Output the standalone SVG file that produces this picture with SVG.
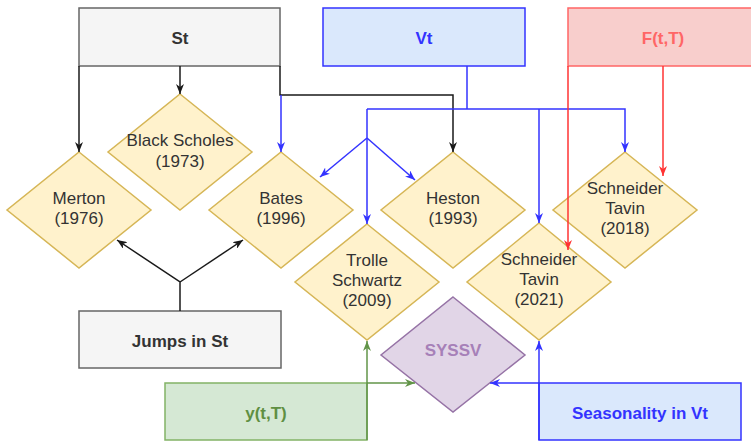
<svg xmlns="http://www.w3.org/2000/svg" width="751" height="442" viewBox="0 0 751 442">
<style>
text{font-family:"Liberation Sans",Arial,sans-serif;font-size:17px;text-anchor:middle}
.b{font-weight:bold}
.dia{fill:#fff2cc;stroke:#d6b656;stroke-width:1.5}
.dt{fill:#333333}
.c{fill:none;stroke-width:1.5}
.k{stroke:#1a1a1a}
.bl{stroke:#3333ff}
.r{stroke:#ff3333}
.g{stroke:#629448}
</style>
<defs>
<marker id="mk" viewBox="0 0 10 8" refX="10" refY="4" markerWidth="10" markerHeight="8" markerUnits="userSpaceOnUse" orient="auto"><path d="M0,0 L10,4 L0,8 L3,4 Z" fill="#1a1a1a"/></marker>
<marker id="mb" viewBox="0 0 10 8" refX="10" refY="4" markerWidth="10" markerHeight="8" markerUnits="userSpaceOnUse" orient="auto"><path d="M0,0 L10,4 L0,8 L3,4 Z" fill="#3333ff"/></marker>
<marker id="mr" viewBox="0 0 10 8" refX="10" refY="4" markerWidth="10" markerHeight="8" markerUnits="userSpaceOnUse" orient="auto"><path d="M0,0 L10,4 L0,8 L3,4 Z" fill="#ff3333"/></marker>
<marker id="mg" viewBox="0 0 10 8" refX="10" refY="4" markerWidth="10" markerHeight="8" markerUnits="userSpaceOnUse" orient="auto"><path d="M0,0 L10,4 L0,8 L3,4 Z" fill="#629448"/></marker>
</defs>
<rect width="751" height="442" fill="#ffffff"/>
<g id="St"><rect x="79" y="8" width="201" height="58" fill="#f5f5f5" stroke="#666666" stroke-width="1.5"/><text x="180" y="44" class="b" fill="#333333">St</text></g>
<g id="Vt"><rect x="323" y="8" width="202" height="58" fill="#dae8fc" stroke="#3333ff" stroke-width="1.5"/><text x="424" y="44" class="b" fill="#3333ff">Vt</text></g>
<g id="Ftt"><rect x="568" y="8" width="190" height="58" fill="#f8cecc" stroke="#ff6666" stroke-width="1.5"/><text x="663" y="44" class="b" fill="#ff6666">F(t,T)</text></g>
<g id="merton"><path class="dia" d="M79,152 L151,210 L79,268 L7,210 Z"/><text class="dt" x="79" y="204">Merton</text><text class="dt" x="79" y="224">(1976)</text></g>
<g id="blackscholes"><path class="dia" d="M180,94 L252,152 L180,210 L108,152 Z"/><text class="dt" x="180" y="146">Black Scholes</text><text class="dt" x="180" y="167">(1973)</text></g>
<g id="bates"><path class="dia" d="M281,152 L353,210 L281,268 L209,210 Z"/><text class="dt" x="281" y="204">Bates</text><text class="dt" x="281" y="224">(1996)</text></g>
<g id="heston"><path class="dia" d="M453,152 L525,210 L453,268 L381,210 Z"/><text class="dt" x="453" y="204">Heston</text><text class="dt" x="453" y="224">(1993)</text></g>
<g id="st2018"><path class="dia" d="M625,152 L697,210 L625,268 L553,210 Z"/><text class="dt" x="625" y="194">Schneider</text><text class="dt" x="625" y="214">Tavin</text><text class="dt" x="625" y="234">(2018)</text></g>
<g id="trolle"><path class="dia" d="M367,224 L439,282 L367,340 L295,282 Z"/><text class="dt" x="367" y="266">Trolle</text><text class="dt" x="367" y="286">Schwartz</text><text class="dt" x="367" y="306">(2009)</text></g>
<g id="st2021"><path class="dia" d="M539,223 L611,282 L539,340 L467,282 Z"/><text class="dt" x="539" y="265">Schneider</text><text class="dt" x="539" y="285">Tavin</text><text class="dt" x="539" y="305">(2021)</text></g>
<g id="syssv"><path d="M453,297 L525,355 L453,412 L381,355 Z" fill="#e1d5e7" stroke="#9673a6" stroke-width="1.5"/><text x="453" y="356" class="b" fill="#a680b8">SYSSV</text></g>
<g id="jumps"><rect x="79" y="311" width="202" height="57" fill="#f5f5f5" stroke="#666666" stroke-width="1.5"/><text x="180" y="347" class="b" fill="#333333">Jumps in St</text></g>
<g id="ytt"><rect x="165" y="383" width="202" height="57" fill="#d5e8d4" stroke="#82b366" stroke-width="1.5"/><text x="266" y="419" class="b" fill="#5f8f42">y(t,T)</text></g>
<g id="season"><rect x="539" y="383" width="202" height="57" fill="#dae8fc" stroke="#3333ff" stroke-width="1.5"/><text x="640" y="419" class="b" fill="#3333ff">Seasonality in Vt</text></g>
<g id="connectors">
<path class="c k" d="M79,66 L79,152" marker-end="url(#mk)"/>
<path class="c k" d="M180,66 L180,94" marker-end="url(#mk)"/>
<path class="c k" d="M280,66 L280,95 L453,95 L453,152" marker-end="url(#mk)"/>
<path class="c k" d="M180,311 L180,282 L117,240" marker-end="url(#mk)"/>
<path class="c k" d="M180,282 L243,240" marker-end="url(#mk)"/>
<path class="c bl" d="M281,95 L281,152" marker-end="url(#mb)"/>
<path class="c bl" d="M467,66 L467,109"/>
<path class="c bl" d="M367,109 L625,109 L625,152" marker-end="url(#mb)"/>
<path class="c bl" d="M367,109 L367,224" marker-end="url(#mb)"/>
<path class="c bl" d="M539,109 L539,223" marker-end="url(#mb)"/>
<path class="c bl" d="M367,138 L320,177" marker-end="url(#mb)"/>
<path class="c bl" d="M367,138 L415,180" marker-end="url(#mb)"/>
<path class="c bl" d="M539,440 L539,341" marker-end="url(#mb)"/>
<path class="c bl" d="M539,383 L490,383" marker-end="url(#mb)"/>
<path class="c r" d="M568,66 L568,250" marker-end="url(#mr)"/>
<path class="c r" d="M663,66 L663,176" marker-end="url(#mr)"/>
<path class="c g" d="M367,440 L367,341" marker-end="url(#mg)"/>
<path class="c g" d="M367,383 L415,383" marker-end="url(#mg)"/>
</g>
</svg>
